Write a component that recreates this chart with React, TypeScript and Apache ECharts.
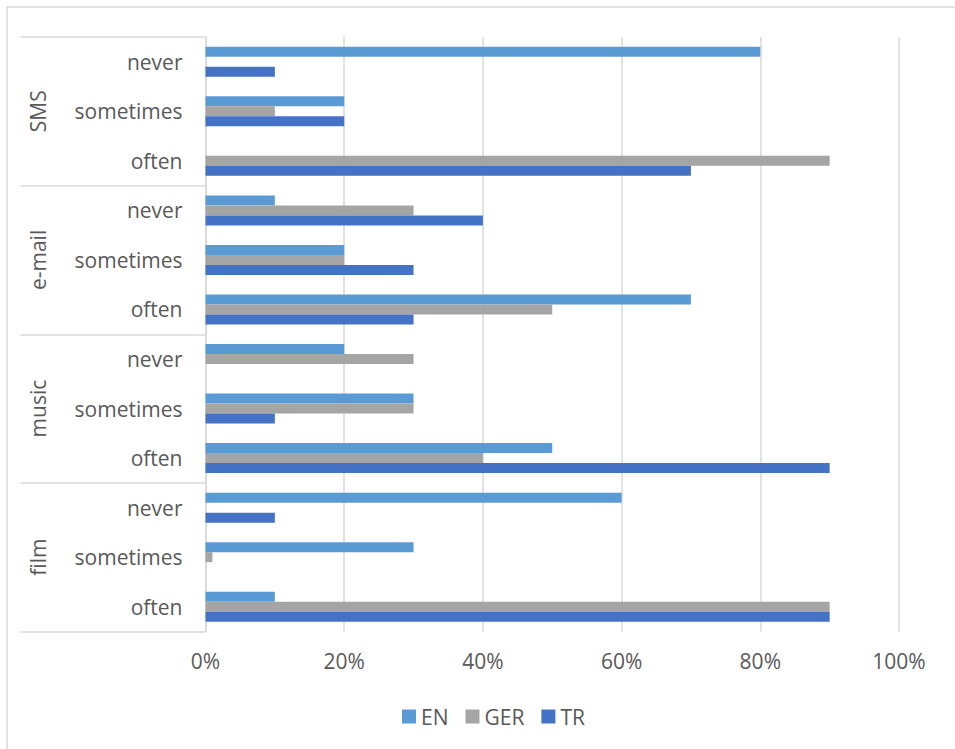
import React, { useEffect, useRef } from "react";
import * as echarts from "echarts";

const groups = ["SMS", "e-mail", "music", "film"];
const subCategories = ["never", "sometimes", "often"];
const categories = groups.flatMap(() => subCategories);
const seriesNames = ["EN", "GER", "TR"];
const enValues = [80, 20, 0, 10, 20, 70, 20, 30, 50, 60, 30, 10];
const gerValues = [0, 10, 90, 30, 20, 50, 30, 30, 40, 0, 1, 90];
const trValues = [10, 20, 70, 40, 30, 30, 0, 10, 90, 10, 0, 90];
const xTicks = [0, 20, 40, 60, 80, 100];
const colors = ["#5B9BD5", "#A5A5A5", "#4472C4"];

export default function App() {
  const ref = useRef<HTMLDivElement>(null);
  useEffect(() => {
    if (!ref.current) return;
    const chart = echarts.init(ref.current, undefined, { renderer: "svg" });
    const font = "'Open Sans', 'Noto Sans', sans-serif";
    const values = [enValues, gerValues, trValues];
    chart.setOption({
      animation: false,
      textStyle: { fontFamily: font },
      graphic: [
        {
          type: "rect",
          shape: { x: 7, y: 7, width: 1200, height: 1000 },
          style: { fill: "none", stroke: "#d9d9d9", lineWidth: 1.5 },
          silent: true,
        },
      ],
      grid: { left: 205.5, right: 56, top: 37, bottom: 117.5, containLabel: false },
      legend: {
        top: 701,
        left: 397,
        icon: "rect",
        itemWidth: 14,
        itemHeight: 14,
        itemGap: 17,
        data: seriesNames,
        textStyle: { fontSize: 21, color: "#595959", fontFamily: font },
      },
      xAxis: {
        type: "value",
        min: xTicks[0],
        max: xTicks[xTicks.length - 1],
        interval: xTicks[1] - xTicks[0],
        axisLine: { show: false },
        axisTick: { show: false },
        splitLine: { show: true, lineStyle: { color: "#d9d9d9", width: 1.5 } },
        axisLabel: { formatter: "{value}%", fontSize: 21, color: "#595959", margin: 19, fontFamily: font },
      },
      yAxis: [
        {
          type: "category",
          inverse: true,
          data: categories,
          axisLine: { show: true, lineStyle: { color: "#d9d9d9", width: 1.5 } },
          axisTick: { show: false },
          axisLabel: { fontSize: 21, color: "#595959", margin: 23, fontFamily: font },
        },
        {
          type: "category",
          inverse: true,
          position: "left",
          data: groups,
          axisLine: { show: false },
          axisTick: { show: true, length: 185, lineStyle: { color: "#d9d9d9", width: 1.5 } },
          axisLabel: { rotate: 90, fontSize: 21, color: "#595959", margin: 157, fontFamily: font },
        },
      ],
      series: seriesNames.map((name, i) => ({
        name,
        type: "bar",
        yAxisIndex: 0,
        data: values[i],
        barWidth: 10,
        barGap: "0%",
        itemStyle: { color: colors[i] },
      })),
    });
    return () => chart.dispose();
  }, []);
  return <div ref={ref} style={{ position: "absolute", left: 0, top: 0, width: 955, height: 749 }} />;
}
